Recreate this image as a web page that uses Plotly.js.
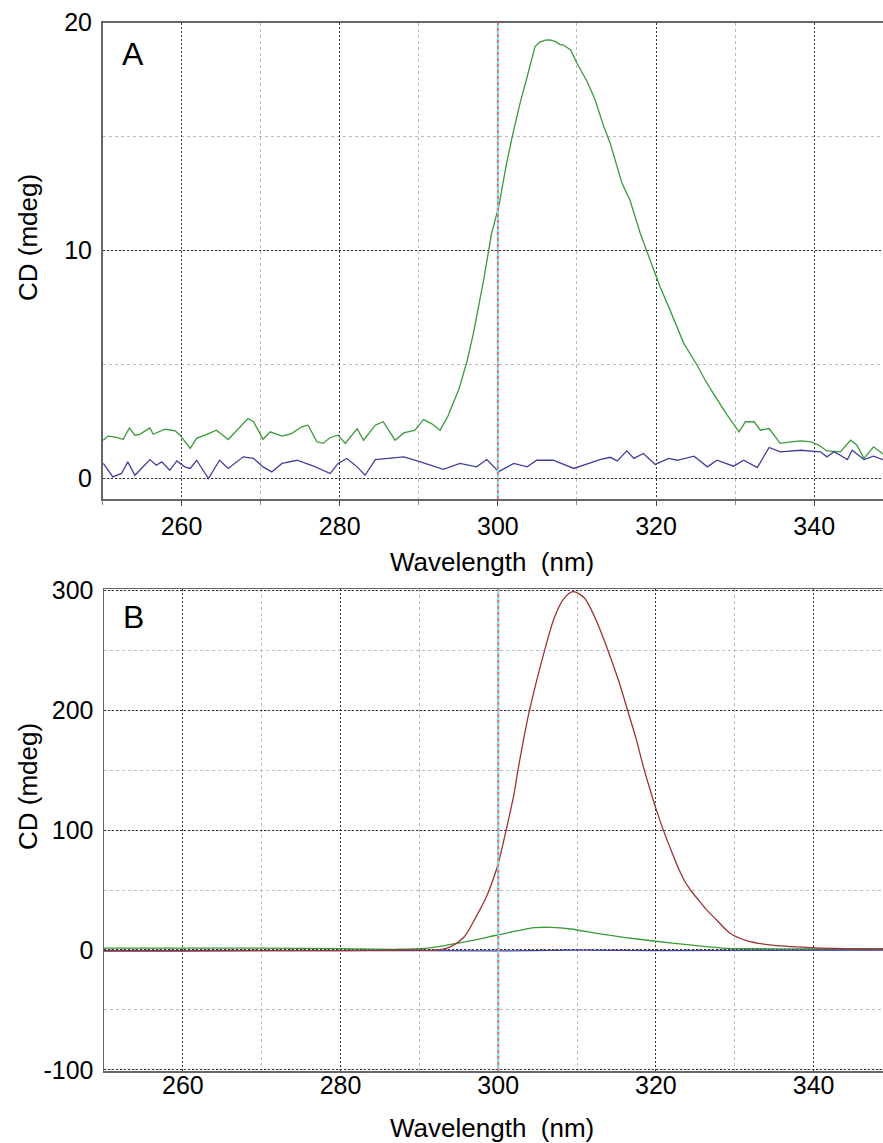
<!DOCTYPE html>
<html>
<head>
<meta charset="utf-8">
<script src="https://cdn.plot.ly/plotly-3.0.1.min.js"></script>
<style>html,body{margin:0;padding:0;background:#fff;}#chart{width:883px;height:1143px;}</style>
</head>
<body>
<div id="chart"></div>
<script>
// ---------- Panel A data ----------
const wlA_green = [250.1,250.7,251.8,252.6,253.4,254.1,254.7,256.0,256.4,257.9,259.2,259.8,261.1,261.9,263.2,264.4,265.9,267.4,268.4,269.1,270.3,271.2,272.7,273.9,275.2,276.0,277.1,277.9,278.8,279.8,280.7,282.2,283.0,284.5,285.5,287.0,288.1,289.5,290.6,291.6,292.7,293.7,295.1,296.1,296.9,298.2,299.2,300.1,301.1,302.0,302.8,303.7,304.7,305.3,306.0,306.6,307.3,307.8,308.3,309.2,310.0,311.3,312.3,313.4,314.2,315.7,316.7,318.0,319.3,320.5,321.6,323.5,325.2,326.2,327.3,329.0,330.5,331.3,332.4,333.2,334.3,335.7,337.0,338.3,339.6,340.6,341.6,343.3,344.6,345.4,346.3,347.5,348.7];
const cdA_green = [1.68,1.86,1.80,1.71,2.22,1.90,1.94,2.22,1.94,2.16,2.09,1.90,1.32,1.76,1.94,2.12,1.71,2.27,2.63,2.49,1.72,2.05,1.86,1.97,2.27,2.34,1.61,1.54,1.80,1.90,1.54,2.19,1.68,2.34,2.49,1.68,2.00,2.12,2.59,2.41,2.12,2.75,3.95,5.15,6.37,8.71,10.76,11.92,13.83,15.29,16.46,17.63,18.95,19.15,19.24,19.25,19.17,19.05,19.02,18.80,18.22,17.41,16.61,15.43,14.71,12.95,12.22,10.76,9.58,8.41,7.53,5.93,4.97,4.32,3.70,2.78,2.05,2.49,2.49,2.12,2.19,1.54,1.61,1.65,1.61,1.46,1.21,1.17,1.68,1.46,0.88,1.39,1.07];

const wlA_blue = [250.1,251.3,252.4,253.2,254.1,255.1,256.0,256.8,257.5,258.5,259.4,260.4,261.1,261.9,263.4,264.8,265.9,267.8,269.1,270.3,271.4,272.7,274.6,276.7,278.8,279.8,280.9,282.2,283.2,284.5,285.9,288.1,290.2,293.1,295.2,297.3,298.6,300.1,302.0,303.7,304.9,307.0,309.6,312.1,312.9,314.2,315.1,316.3,317.2,318.4,319.9,321.6,322.7,324.8,326.5,327.7,329.8,331.1,332.8,334.3,335.7,338.3,339.1,340.8,341.6,342.5,343.3,344.2,344.8,346.3,347.5,348.7];
const cdA_blue = [0.66,0.07,0.22,0.73,0.14,0.51,0.83,0.58,0.73,0.36,0.77,0.51,0.44,0.80,0.00,0.80,0.44,0.95,0.88,0.51,0.29,0.66,0.80,0.54,0.22,0.66,0.88,0.51,0.14,0.83,0.88,0.95,0.73,0.40,0.66,0.51,0.83,0.30,0.66,0.51,0.80,0.80,0.44,0.73,0.83,0.93,0.77,1.21,0.88,1.10,0.62,0.88,0.80,0.98,0.51,0.80,0.54,0.80,0.48,1.36,1.17,1.24,1.21,1.17,0.95,1.17,1.02,0.83,1.24,0.83,0.98,0.83];

// ---------- Panel B data ----------
const wlB_red = [250,260,270,280,288,292.4,294.0,295.7,297.2,298.5,299.3,300.0,301.0,302.0,302.5,303.9,305.8,307.1,308.3,309.5,310.9,312.5,313.8,315.3,316.5,317.5,318.4,319.2,320.0,321.0,322.0,322.8,323.6,324.5,325.5,326.5,327.7,329.4,331.5,334.4,339.6,346.2,348.8];
const cdB_red = [-1,-1,-0.5,-0.5,0,0,2.8,11,27.8,44.4,58,72,100,130,150,198,248,277,293,299,294,274,252,224,198,176,153,135,118,99,82,69,58,49,41,33,25,14,7.8,4.2,2,1,1];

const wlB_green = [250,260,270,280,287.3,290.7,293.6,296.6,299.9,302.5,304.6,306.7,309.2,312.5,315.9,319.7,324.3,329.0,335,340,348.8];
const cdB_green = [1.5,1.5,1.5,1.2,0.6,1.4,4.2,7.8,12.5,16.1,18.6,18.9,17.5,13.9,10.6,7.5,4.2,1.4,1.0,0.8,0.8];

const wlB_blue = [250,270,290,300,310,320,330,340,348.8];
const cdB_blue = [-0.5,-0.3,-0.5,-0.8,-0.2,-0.5,-0.4,0.3,0];

// ---------- tick labels / text ----------
const yTickValsA = [0, 10, 20];
const yTickTextA = ['0', '10', '20'];
const yTickValsB = [-100, 0, 100, 200, 300];
const yTickTextB = ['-100', '0', '100', '200', '300'];
const panelLabels = ['A', 'B'];
const xTitle = 'Wavelength\u00A0\u00A0(nm)';
const yTitle = 'CD (mdeg)';
const cursorX = 300;

const W = 883, H = 1143;
const FONT = 'Liberation Sans, Arial, sans-serif';
const px = v => v / W;
const py = v => 1 - v / H;

const GREEN = '#3a9a3a', BLUE = '#40409c', RED = '#9a3434';

const traces = [
  {x: wlA_green, y: cdA_green, xaxis: 'x', yaxis: 'y', mode: 'lines', line: {color: GREEN, width: 1.3}},
  {x: wlA_blue, y: cdA_blue, xaxis: 'x', yaxis: 'y', mode: 'lines', line: {color: BLUE, width: 1.3}},
  {x: wlB_green, y: cdB_green, xaxis: 'x2', yaxis: 'y2', mode: 'lines', line: {color: GREEN, width: 1.3, shape: 'spline', smoothing: 0.8}},
  {x: wlB_blue, y: cdB_blue, xaxis: 'x2', yaxis: 'y2', mode: 'lines', line: {color: BLUE, width: 1.3}},
  {x: wlB_red, y: cdB_red, xaxis: 'x2', yaxis: 'y2', mode: 'lines', line: {color: RED, width: 1.3, shape: 'spline', smoothing: 0.8}}
];

function xAxis(domain, range, anchor, ticks, standoff) {
  return {
    domain: domain, range: range, anchor: anchor,
    tick0: 0, dtick: 20, ticks: ticks, ticklen: 5, tickcolor: '#444',
    ticklabelstandoff: standoff,
    showgrid: true, gridcolor: '#333', griddash: '2px,2px', gridwidth: 1,
    minor: {tick0: 0, dtick: 10, showgrid: true, gridcolor: '#bbb', griddash: '3px,3px', ticks: ticks, ticklen: 4, tickcolor: '#888'},
    showline: true, linecolor: '#666', linewidth: 1.5, mirror: true,
    zeroline: false, tickfont: {family: FONT, size: 25, color: '#000'}
  };
}
function yAxis(domain, range, vals, text, minorStep, anchor) {
  return {
    domain: domain, range: range, anchor: anchor,
    tickmode: 'array', tickvals: vals, ticktext: text, ticks: '',
    showgrid: true, gridcolor: '#333', griddash: '2px,2px', gridwidth: 1,
    minor: {tickmode: 'linear', tick0: 0, dtick: minorStep, showgrid: true, gridcolor: '#bbb', griddash: '3px,3px'},
    showline: true, linecolor: '#666', linewidth: 1.5, mirror: false,
    zeroline: false, ticklabelstandoff: 4,
    tickfont: {family: FONT, size: 25, color: '#000'}
  };
}

const layout = {
  width: W, height: H,
  margin: {l: 0, r: 0, t: 0, b: 0},
  showlegend: false,
  paper_bgcolor: '#fff', plot_bgcolor: '#fff',
  xaxis: xAxis([px(102.5), 1], [250, 348.7], 'y', 'outside', -1),
  yaxis: yAxis([py(499), py(22.7)], [-0.9, 20], yTickValsA, yTickTextA, 5, 'x'),
  xaxis2: xAxis([px(104), 1], [250, 348.8], 'y2', '', -9),
  yaxis2: yAxis([py(1071), py(589.3)], [-101, 301], yTickValsB, yTickTextB, 50, 'x2'),
  shapes: [
    {type: 'line', xref: 'x', yref: 'y domain', x0: cursorX, x1: cursorX, y0: 0, y1: 1, line: {color: '#66e8f2', width: 2}},
    {type: 'line', xref: 'x', yref: 'y domain', x0: cursorX, x1: cursorX, y0: 0, y1: 1, line: {color: '#f27070', width: 2, dash: '3px,3px'}},
    {type: 'line', xref: 'x2', yref: 'y2 domain', x0: cursorX, x1: cursorX, y0: 0, y1: 1, line: {color: '#66e8f2', width: 2}},
    {type: 'line', xref: 'x2', yref: 'y2 domain', x0: cursorX, x1: cursorX, y0: 0, y1: 1, line: {color: '#f27070', width: 2, dash: '3px,3px'}}
  ],
  annotations: [
    {text: panelLabels[0], xref: 'paper', yref: 'paper', x: px(133), y: py(54), xanchor: 'center', yanchor: 'middle', showarrow: false, font: {family: FONT, size: 32, color: '#000'}},
    {text: panelLabels[1], xref: 'paper', yref: 'paper', x: px(133), y: py(617), xanchor: 'center', yanchor: 'middle', showarrow: false, font: {family: FONT, size: 32, color: '#000'}},
    {text: xTitle, xref: 'paper', yref: 'paper', x: px(492), y: py(562), xanchor: 'center', yanchor: 'middle', showarrow: false, font: {family: FONT, size: 26, color: '#000'}},
    {text: xTitle, xref: 'paper', yref: 'paper', x: px(492), y: py(1128), xanchor: 'center', yanchor: 'middle', showarrow: false, font: {family: FONT, size: 26, color: '#000'}},
    {text: yTitle, xref: 'paper', yref: 'paper', x: px(28), y: py(238), xanchor: 'center', yanchor: 'middle', textangle: -90, showarrow: false, font: {family: FONT, size: 26, color: '#000'}},
    {text: yTitle, xref: 'paper', yref: 'paper', x: px(28), y: py(787), xanchor: 'center', yanchor: 'middle', textangle: -90, showarrow: false, font: {family: FONT, size: 26, color: '#000'}}
  ]
};

Plotly.newPlot('chart', traces, layout, {staticPlot: true, displayModeBar: false});
</script>
</body>
</html>
